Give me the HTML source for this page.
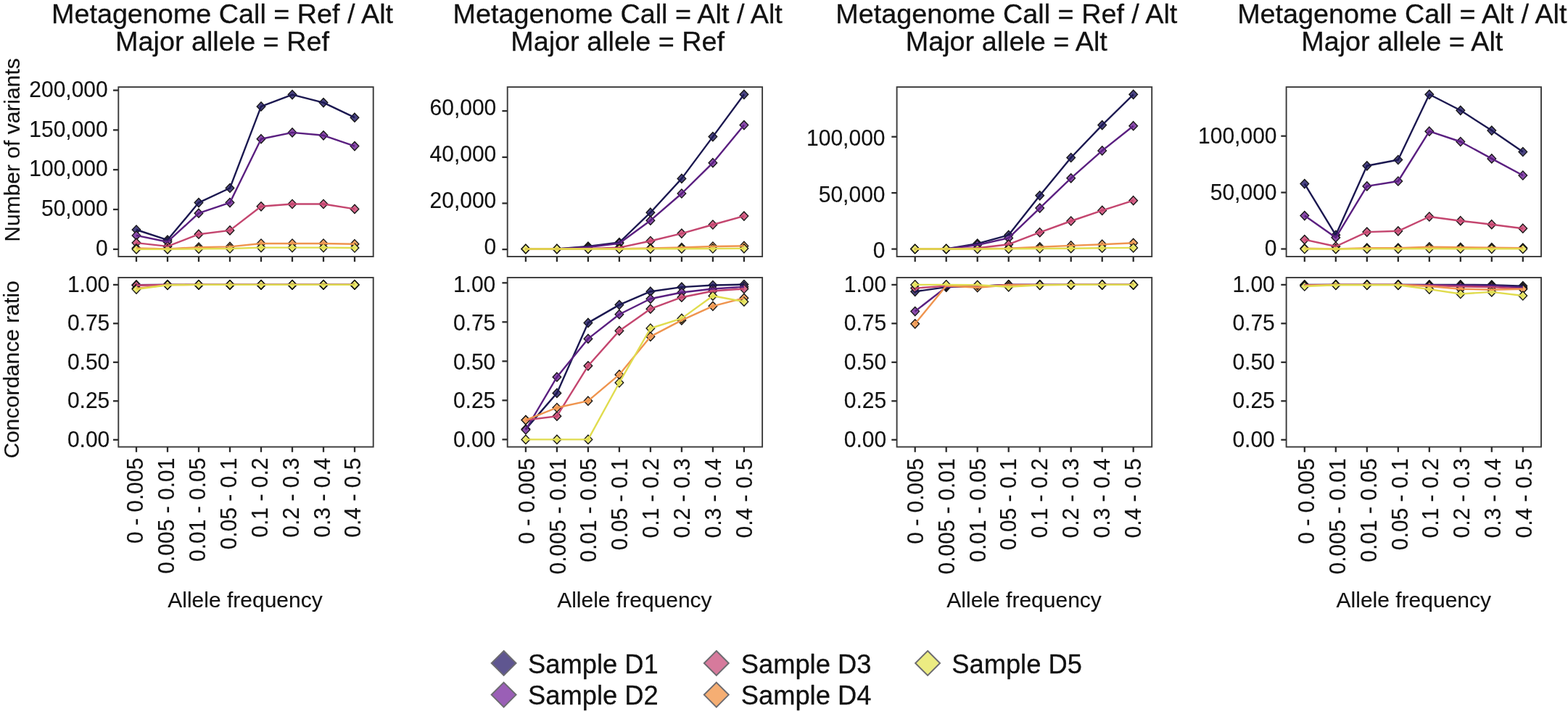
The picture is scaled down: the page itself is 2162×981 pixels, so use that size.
<!DOCTYPE html>
<html lang="en">
<head>
<meta charset="utf-8">
<title>Metagenome call concordance by allele frequency</title>
<style>html,body{margin:0;padding:0;background:#fff}body{width:2162px;height:981px;overflow:hidden}svg{display:block}</style>
</head>
<body>
<svg width="2162" height="981" viewBox="0 0 2162 981" font-family='"Liberation Sans", Arial, Helvetica, sans-serif'>
<style>text{fill:#111;stroke:#111;stroke-width:0.14px;stroke-linejoin:round}text.t{stroke-width:0.3px}</style>
<rect width="2162" height="981" fill="#fff"/>
<text x="306.5" y="32.0" font-size="37.75" text-anchor="middle" class="t">Metagenome Call = Ref / Alt</text>
<text x="306.5" y="70" font-size="37.75" text-anchor="middle" class="t">Major allele = Ref</text>
<path d="M188.0 310.9L193.8 317.0L188.0 323.1L182.2 317.0Z" fill="#4a4482" stroke="#161616" stroke-width="1.35"/>
<path d="M231.0 325.0L236.8 331.1L231.0 337.2L225.2 331.1Z" fill="#4a4482" stroke="#161616" stroke-width="1.35"/>
<path d="M274.0 273.5L279.8 279.6L274.0 285.7L268.2 279.6Z" fill="#4a4482" stroke="#161616" stroke-width="1.35"/>
<path d="M317.0 253.4L322.8 259.5L317.0 265.6L311.2 259.5Z" fill="#4a4482" stroke="#161616" stroke-width="1.35"/>
<path d="M360.0 140.8L365.8 146.9L360.0 153.0L354.2 146.9Z" fill="#4a4482" stroke="#161616" stroke-width="1.35"/>
<path d="M403.0 124.5L408.8 130.6L403.0 136.7L397.2 130.6Z" fill="#4a4482" stroke="#161616" stroke-width="1.35"/>
<path d="M446.0 135.5L451.8 141.6L446.0 147.7L440.2 141.6Z" fill="#4a4482" stroke="#161616" stroke-width="1.35"/>
<path d="M489.0 156.1L494.8 162.2L489.0 168.3L483.2 162.2Z" fill="#4a4482" stroke="#161616" stroke-width="1.35"/>
<path d="M188.0 318.8L193.8 324.9L188.0 331.0L182.2 324.9Z" fill="#8a4caa" stroke="#161616" stroke-width="1.35"/>
<path d="M231.0 327.6L236.8 333.7L231.0 339.8L225.2 333.7Z" fill="#8a4caa" stroke="#161616" stroke-width="1.35"/>
<path d="M274.0 288.1L279.8 294.2L274.0 300.3L268.2 294.2Z" fill="#8a4caa" stroke="#161616" stroke-width="1.35"/>
<path d="M317.0 273.5L322.8 279.6L317.0 285.7L311.2 279.6Z" fill="#8a4caa" stroke="#161616" stroke-width="1.35"/>
<path d="M360.0 185.6L365.8 191.7L360.0 197.8L354.2 191.7Z" fill="#8a4caa" stroke="#161616" stroke-width="1.35"/>
<path d="M403.0 176.8L408.8 182.9L403.0 189.0L397.2 182.9Z" fill="#8a4caa" stroke="#161616" stroke-width="1.35"/>
<path d="M446.0 180.7L451.8 186.8L446.0 192.9L440.2 186.8Z" fill="#8a4caa" stroke="#161616" stroke-width="1.35"/>
<path d="M489.0 195.5L494.8 201.6L489.0 207.7L483.2 201.6Z" fill="#8a4caa" stroke="#161616" stroke-width="1.35"/>
<path d="M188.0 329.0L193.8 335.1L188.0 341.2L182.2 335.1Z" fill="#d5648a" stroke="#161616" stroke-width="1.35"/>
<path d="M231.0 333.8L236.8 339.9L231.0 346.0L225.2 339.9Z" fill="#d5648a" stroke="#161616" stroke-width="1.35"/>
<path d="M274.0 317.1L279.8 323.2L274.0 329.3L268.2 323.2Z" fill="#d5648a" stroke="#161616" stroke-width="1.35"/>
<path d="M317.0 311.8L322.8 317.9L317.0 324.0L311.2 317.9Z" fill="#d5648a" stroke="#161616" stroke-width="1.35"/>
<path d="M360.0 278.7L365.8 284.8L360.0 290.9L354.2 284.8Z" fill="#d5648a" stroke="#161616" stroke-width="1.35"/>
<path d="M403.0 275.4L408.8 281.5L403.0 287.6L397.2 281.5Z" fill="#d5648a" stroke="#161616" stroke-width="1.35"/>
<path d="M446.0 275.4L451.8 281.5L446.0 287.6L440.2 281.5Z" fill="#d5648a" stroke="#161616" stroke-width="1.35"/>
<path d="M489.0 282.3L494.8 288.4L489.0 294.5L483.2 288.4Z" fill="#d5648a" stroke="#161616" stroke-width="1.35"/>
<path d="M188.0 336.4L193.8 342.5L188.0 348.6L182.2 342.5Z" fill="#f4a664" stroke="#161616" stroke-width="1.35"/>
<path d="M231.0 337.3L236.8 343.4L231.0 349.5L225.2 343.4Z" fill="#f4a664" stroke="#161616" stroke-width="1.35"/>
<path d="M274.0 335.0L279.8 341.1L274.0 347.2L268.2 341.1Z" fill="#f4a664" stroke="#161616" stroke-width="1.35"/>
<path d="M317.0 334.3L322.8 340.4L317.0 346.5L311.2 340.4Z" fill="#f4a664" stroke="#161616" stroke-width="1.35"/>
<path d="M360.0 329.9L365.8 336.0L360.0 342.1L354.2 336.0Z" fill="#f4a664" stroke="#161616" stroke-width="1.35"/>
<path d="M403.0 329.9L408.8 336.0L403.0 342.1L397.2 336.0Z" fill="#f4a664" stroke="#161616" stroke-width="1.35"/>
<path d="M446.0 329.9L451.8 336.0L446.0 342.1L440.2 336.0Z" fill="#f4a664" stroke="#161616" stroke-width="1.35"/>
<path d="M489.0 330.6L494.8 336.7L489.0 342.8L483.2 336.7Z" fill="#f4a664" stroke="#161616" stroke-width="1.35"/>
<path d="M188.0 337.8L193.8 343.9L188.0 350.0L182.2 343.9Z" fill="#eae76f" stroke="#161616" stroke-width="1.35"/>
<path d="M231.0 337.8L236.8 343.9L231.0 350.0L225.2 343.9Z" fill="#eae76f" stroke="#161616" stroke-width="1.35"/>
<path d="M274.0 337.2L279.8 343.3L274.0 349.4L268.2 343.3Z" fill="#eae76f" stroke="#161616" stroke-width="1.35"/>
<path d="M317.0 336.9L322.8 343.0L317.0 349.1L311.2 343.0Z" fill="#eae76f" stroke="#161616" stroke-width="1.35"/>
<path d="M360.0 335.5L365.8 341.6L360.0 347.7L354.2 341.6Z" fill="#eae76f" stroke="#161616" stroke-width="1.35"/>
<path d="M403.0 335.5L408.8 341.6L403.0 347.7L397.2 341.6Z" fill="#eae76f" stroke="#161616" stroke-width="1.35"/>
<path d="M446.0 335.5L451.8 341.6L446.0 347.7L440.2 341.6Z" fill="#eae76f" stroke="#161616" stroke-width="1.35"/>
<path d="M489.0 335.9L494.8 342.0L489.0 348.1L483.2 342.0Z" fill="#eae76f" stroke="#161616" stroke-width="1.35"/>
<polyline points="188.0,317.0 231.0,331.1 274.0,279.6 317.0,259.5 360.0,146.9 403.0,130.6 446.0,141.6 489.0,162.2" fill="none" stroke="#1b1850" stroke-width="2.4" stroke-linejoin="round" stroke-linecap="butt"/>
<polyline points="188.0,324.9 231.0,333.7 274.0,294.2 317.0,279.6 360.0,191.7 403.0,182.9 446.0,186.8 489.0,201.6" fill="none" stroke="#5a1f80" stroke-width="2.4" stroke-linejoin="round" stroke-linecap="butt"/>
<polyline points="188.0,335.1 231.0,339.9 274.0,323.2 317.0,317.9 360.0,284.8 403.0,281.5 446.0,281.5 489.0,288.4" fill="none" stroke="#c4466f" stroke-width="2.4" stroke-linejoin="round" stroke-linecap="butt"/>
<polyline points="188.0,342.5 231.0,343.4 274.0,341.1 317.0,340.4 360.0,336.0 403.0,336.0 446.0,336.0 489.0,336.7" fill="none" stroke="#ef944e" stroke-width="2.4" stroke-linejoin="round" stroke-linecap="butt"/>
<polyline points="188.0,343.9 231.0,343.9 274.0,343.3 317.0,343.0 360.0,341.6 403.0,341.6 446.0,341.6 489.0,342.0" fill="none" stroke="#e0dc4e" stroke-width="2.4" stroke-linejoin="round" stroke-linecap="butt"/>
<rect x="163.3" y="120.1" width="351.4" height="233.9" fill="none" stroke="#3a3a3a" stroke-width="1.9"/>
<line x1="156.0" x2="163.3" y1="343.9" y2="343.9" stroke="#2b2b2b" stroke-width="2.3"/>
<text transform="translate(148.7 353.3) scale(1 1.015)" font-size="30.0" text-anchor="end">0</text>
<line x1="156.0" x2="163.3" y1="289.0" y2="289.0" stroke="#2b2b2b" stroke-width="2.3"/>
<text transform="translate(148.7 298.3) scale(1 1.015)" font-size="30.0" text-anchor="end">50,000</text>
<line x1="156.0" x2="163.3" y1="234.2" y2="234.2" stroke="#2b2b2b" stroke-width="2.3"/>
<text transform="translate(148.7 243.4) scale(1 1.015)" font-size="30.0" text-anchor="end">100,000</text>
<line x1="156.0" x2="163.3" y1="179.4" y2="179.4" stroke="#2b2b2b" stroke-width="2.3"/>
<text transform="translate(148.7 188.5) scale(1 1.015)" font-size="30.0" text-anchor="end">150,000</text>
<line x1="156.0" x2="163.3" y1="124.6" y2="124.6" stroke="#2b2b2b" stroke-width="2.3"/>
<text transform="translate(148.7 133.6) scale(1 1.015)" font-size="30.0" text-anchor="end">200,000</text>
<line x1="188.0" x2="188.0" y1="354.0" y2="361.2" stroke="#2b2b2b" stroke-width="2.3"/>
<line x1="231.0" x2="231.0" y1="354.0" y2="361.2" stroke="#2b2b2b" stroke-width="2.3"/>
<line x1="274.0" x2="274.0" y1="354.0" y2="361.2" stroke="#2b2b2b" stroke-width="2.3"/>
<line x1="317.0" x2="317.0" y1="354.0" y2="361.2" stroke="#2b2b2b" stroke-width="2.3"/>
<line x1="360.0" x2="360.0" y1="354.0" y2="361.2" stroke="#2b2b2b" stroke-width="2.3"/>
<line x1="403.0" x2="403.0" y1="354.0" y2="361.2" stroke="#2b2b2b" stroke-width="2.3"/>
<line x1="446.0" x2="446.0" y1="354.0" y2="361.2" stroke="#2b2b2b" stroke-width="2.3"/>
<line x1="489.0" x2="489.0" y1="354.0" y2="361.2" stroke="#2b2b2b" stroke-width="2.3"/>
<path d="M188.0 387.0L193.8 393.1L188.0 399.2L182.2 393.1Z" fill="#4a4482" stroke="#161616" stroke-width="1.35"/>
<path d="M231.0 386.8L236.8 392.9L231.0 399.0L225.2 392.9Z" fill="#4a4482" stroke="#161616" stroke-width="1.35"/>
<path d="M274.0 386.8L279.8 392.9L274.0 399.0L268.2 392.9Z" fill="#4a4482" stroke="#161616" stroke-width="1.35"/>
<path d="M317.0 386.8L322.8 392.9L317.0 399.0L311.2 392.9Z" fill="#4a4482" stroke="#161616" stroke-width="1.35"/>
<path d="M360.0 386.8L365.8 392.9L360.0 399.0L354.2 392.9Z" fill="#4a4482" stroke="#161616" stroke-width="1.35"/>
<path d="M403.0 386.8L408.8 392.9L403.0 399.0L397.2 392.9Z" fill="#4a4482" stroke="#161616" stroke-width="1.35"/>
<path d="M446.0 386.8L451.8 392.9L446.0 399.0L440.2 392.9Z" fill="#4a4482" stroke="#161616" stroke-width="1.35"/>
<path d="M489.0 386.8L494.8 392.9L489.0 399.0L483.2 392.9Z" fill="#4a4482" stroke="#161616" stroke-width="1.35"/>
<path d="M188.0 387.2L193.8 393.3L188.0 399.4L182.2 393.3Z" fill="#8a4caa" stroke="#161616" stroke-width="1.35"/>
<path d="M231.0 386.8L236.8 392.9L231.0 399.0L225.2 392.9Z" fill="#8a4caa" stroke="#161616" stroke-width="1.35"/>
<path d="M274.0 386.8L279.8 392.9L274.0 399.0L268.2 392.9Z" fill="#8a4caa" stroke="#161616" stroke-width="1.35"/>
<path d="M317.0 386.8L322.8 392.9L317.0 399.0L311.2 392.9Z" fill="#8a4caa" stroke="#161616" stroke-width="1.35"/>
<path d="M360.0 386.8L365.8 392.9L360.0 399.0L354.2 392.9Z" fill="#8a4caa" stroke="#161616" stroke-width="1.35"/>
<path d="M403.0 386.8L408.8 392.9L403.0 399.0L397.2 392.9Z" fill="#8a4caa" stroke="#161616" stroke-width="1.35"/>
<path d="M446.0 386.8L451.8 392.9L446.0 399.0L440.2 392.9Z" fill="#8a4caa" stroke="#161616" stroke-width="1.35"/>
<path d="M489.0 386.8L494.8 392.9L489.0 399.0L483.2 392.9Z" fill="#8a4caa" stroke="#161616" stroke-width="1.35"/>
<path d="M188.0 387.6L193.8 393.7L188.0 399.8L182.2 393.7Z" fill="#d5648a" stroke="#161616" stroke-width="1.35"/>
<path d="M231.0 386.8L236.8 392.9L231.0 399.0L225.2 392.9Z" fill="#d5648a" stroke="#161616" stroke-width="1.35"/>
<path d="M274.0 386.8L279.8 392.9L274.0 399.0L268.2 392.9Z" fill="#d5648a" stroke="#161616" stroke-width="1.35"/>
<path d="M317.0 386.8L322.8 392.9L317.0 399.0L311.2 392.9Z" fill="#d5648a" stroke="#161616" stroke-width="1.35"/>
<path d="M360.0 386.8L365.8 392.9L360.0 399.0L354.2 392.9Z" fill="#d5648a" stroke="#161616" stroke-width="1.35"/>
<path d="M403.0 386.8L408.8 392.9L403.0 399.0L397.2 392.9Z" fill="#d5648a" stroke="#161616" stroke-width="1.35"/>
<path d="M446.0 386.8L451.8 392.9L446.0 399.0L440.2 392.9Z" fill="#d5648a" stroke="#161616" stroke-width="1.35"/>
<path d="M489.0 386.8L494.8 392.9L489.0 399.0L483.2 392.9Z" fill="#d5648a" stroke="#161616" stroke-width="1.35"/>
<path d="M188.0 391.9L193.8 398.0L188.0 404.1L182.2 398.0Z" fill="#f4a664" stroke="#161616" stroke-width="1.35"/>
<path d="M231.0 387.0L236.8 393.1L231.0 399.2L225.2 393.1Z" fill="#f4a664" stroke="#161616" stroke-width="1.35"/>
<path d="M274.0 386.8L279.8 392.9L274.0 399.0L268.2 392.9Z" fill="#f4a664" stroke="#161616" stroke-width="1.35"/>
<path d="M317.0 386.8L322.8 392.9L317.0 399.0L311.2 392.9Z" fill="#f4a664" stroke="#161616" stroke-width="1.35"/>
<path d="M360.0 386.8L365.8 392.9L360.0 399.0L354.2 392.9Z" fill="#f4a664" stroke="#161616" stroke-width="1.35"/>
<path d="M403.0 386.8L408.8 392.9L403.0 399.0L397.2 392.9Z" fill="#f4a664" stroke="#161616" stroke-width="1.35"/>
<path d="M446.0 386.8L451.8 392.9L446.0 399.0L440.2 392.9Z" fill="#f4a664" stroke="#161616" stroke-width="1.35"/>
<path d="M489.0 386.8L494.8 392.9L489.0 399.0L483.2 392.9Z" fill="#f4a664" stroke="#161616" stroke-width="1.35"/>
<path d="M188.0 393.0L193.8 399.1L188.0 405.2L182.2 399.1Z" fill="#eae76f" stroke="#161616" stroke-width="1.35"/>
<path d="M231.0 387.2L236.8 393.3L231.0 399.4L225.2 393.3Z" fill="#eae76f" stroke="#161616" stroke-width="1.35"/>
<path d="M274.0 386.8L279.8 392.9L274.0 399.0L268.2 392.9Z" fill="#eae76f" stroke="#161616" stroke-width="1.35"/>
<path d="M317.0 386.8L322.8 392.9L317.0 399.0L311.2 392.9Z" fill="#eae76f" stroke="#161616" stroke-width="1.35"/>
<path d="M360.0 386.8L365.8 392.9L360.0 399.0L354.2 392.9Z" fill="#eae76f" stroke="#161616" stroke-width="1.35"/>
<path d="M403.0 386.8L408.8 392.9L403.0 399.0L397.2 392.9Z" fill="#eae76f" stroke="#161616" stroke-width="1.35"/>
<path d="M446.0 386.8L451.8 392.9L446.0 399.0L440.2 392.9Z" fill="#eae76f" stroke="#161616" stroke-width="1.35"/>
<path d="M489.0 386.8L494.8 392.9L489.0 399.0L483.2 392.9Z" fill="#eae76f" stroke="#161616" stroke-width="1.35"/>
<polyline points="188.0,393.1 231.0,392.9 274.0,392.9 317.0,392.9 360.0,392.9 403.0,392.9 446.0,392.9 489.0,392.9" fill="none" stroke="#1b1850" stroke-width="2.4" stroke-linejoin="round" stroke-linecap="butt"/>
<polyline points="188.0,393.3 231.0,392.9 274.0,392.9 317.0,392.9 360.0,392.9 403.0,392.9 446.0,392.9 489.0,392.9" fill="none" stroke="#5a1f80" stroke-width="2.4" stroke-linejoin="round" stroke-linecap="butt"/>
<polyline points="188.0,393.7 231.0,392.9 274.0,392.9 317.0,392.9 360.0,392.9 403.0,392.9 446.0,392.9 489.0,392.9" fill="none" stroke="#c4466f" stroke-width="2.4" stroke-linejoin="round" stroke-linecap="butt"/>
<polyline points="188.0,398.0 231.0,393.1 274.0,392.9 317.0,392.9 360.0,392.9 403.0,392.9 446.0,392.9 489.0,392.9" fill="none" stroke="#ef944e" stroke-width="2.4" stroke-linejoin="round" stroke-linecap="butt"/>
<polyline points="188.0,399.1 231.0,393.3 274.0,392.9 317.0,392.9 360.0,392.9 403.0,392.9 446.0,392.9 489.0,392.9" fill="none" stroke="#e0dc4e" stroke-width="2.4" stroke-linejoin="round" stroke-linecap="butt"/>
<rect x="163.3" y="383.0" width="351.4" height="233.6" fill="none" stroke="#3a3a3a" stroke-width="1.9"/>
<line x1="156.0" x2="163.3" y1="606.8" y2="606.8" stroke="#2b2b2b" stroke-width="2.3"/>
<text transform="translate(151.3 616.5) scale(1 1.015)" font-size="30.0" text-anchor="end">0.00</text>
<line x1="156.0" x2="163.3" y1="553.3" y2="553.3" stroke="#2b2b2b" stroke-width="2.3"/>
<text transform="translate(151.3 563.0) scale(1 1.015)" font-size="30.0" text-anchor="end">0.25</text>
<line x1="156.0" x2="163.3" y1="499.8" y2="499.8" stroke="#2b2b2b" stroke-width="2.3"/>
<text transform="translate(151.3 509.5) scale(1 1.015)" font-size="30.0" text-anchor="end">0.50</text>
<line x1="156.0" x2="163.3" y1="446.3" y2="446.3" stroke="#2b2b2b" stroke-width="2.3"/>
<text transform="translate(151.3 456.0) scale(1 1.015)" font-size="30.0" text-anchor="end">0.75</text>
<line x1="156.0" x2="163.3" y1="392.9" y2="392.9" stroke="#2b2b2b" stroke-width="2.3"/>
<text transform="translate(151.3 402.6) scale(1 1.015)" font-size="30.0" text-anchor="end">1.00</text>
<line x1="188.0" x2="188.0" y1="616.6" y2="623.8" stroke="#2b2b2b" stroke-width="2.3"/>
<text transform="translate(197.1 631.6) rotate(-90) scale(1 1.015)" font-size="30.0" text-anchor="end">0 - 0.005</text>
<line x1="231.0" x2="231.0" y1="616.6" y2="623.8" stroke="#2b2b2b" stroke-width="2.3"/>
<text transform="translate(240.0 631.6) rotate(-90) scale(1 1.015)" font-size="30.0" text-anchor="end">0.005 - 0.01</text>
<line x1="274.0" x2="274.0" y1="616.6" y2="623.8" stroke="#2b2b2b" stroke-width="2.3"/>
<text transform="translate(282.9 631.6) rotate(-90) scale(1 1.015)" font-size="30.0" text-anchor="end">0.01 - 0.05</text>
<line x1="317.0" x2="317.0" y1="616.6" y2="623.8" stroke="#2b2b2b" stroke-width="2.3"/>
<text transform="translate(325.8 631.6) rotate(-90) scale(1 1.015)" font-size="30.0" text-anchor="end">0.05 - 0.1</text>
<line x1="360.0" x2="360.0" y1="616.6" y2="623.8" stroke="#2b2b2b" stroke-width="2.3"/>
<text transform="translate(368.7 631.6) rotate(-90) scale(1 1.015)" font-size="30.0" text-anchor="end">0.1 - 0.2</text>
<line x1="403.0" x2="403.0" y1="616.6" y2="623.8" stroke="#2b2b2b" stroke-width="2.3"/>
<text transform="translate(411.6 631.6) rotate(-90) scale(1 1.015)" font-size="30.0" text-anchor="end">0.2 - 0.3</text>
<line x1="446.0" x2="446.0" y1="616.6" y2="623.8" stroke="#2b2b2b" stroke-width="2.3"/>
<text transform="translate(454.5 631.6) rotate(-90) scale(1 1.015)" font-size="30.0" text-anchor="end">0.3 - 0.4</text>
<line x1="489.0" x2="489.0" y1="616.6" y2="623.8" stroke="#2b2b2b" stroke-width="2.3"/>
<text transform="translate(497.4 631.6) rotate(-90) scale(1 1.015)" font-size="30.0" text-anchor="end">0.4 - 0.5</text>
<text x="338.0" y="837.6" font-size="30.0" text-anchor="middle">Allele frequency</text>
<text x="851.7" y="32.0" font-size="37.75" text-anchor="middle" class="t">Metagenome Call = Alt / Alt</text>
<text x="851.7" y="70" font-size="37.75" text-anchor="middle" class="t">Major allele = Ref</text>
<path d="M724.9 337.4L730.7 343.5L724.9 349.6L719.1 343.5Z" fill="#4a4482" stroke="#161616" stroke-width="1.35"/>
<path d="M767.9 337.4L773.7 343.5L767.9 349.6L762.1 343.5Z" fill="#4a4482" stroke="#161616" stroke-width="1.35"/>
<path d="M810.9 333.9L816.7 340.0L810.9 346.1L805.1 340.0Z" fill="#4a4482" stroke="#161616" stroke-width="1.35"/>
<path d="M853.9 328.4L859.7 334.5L853.9 340.6L848.1 334.5Z" fill="#4a4482" stroke="#161616" stroke-width="1.35"/>
<path d="M896.9 287.1L902.7 293.2L896.9 299.3L891.1 293.2Z" fill="#4a4482" stroke="#161616" stroke-width="1.35"/>
<path d="M939.9 240.3L945.7 246.4L939.9 252.5L934.1 246.4Z" fill="#4a4482" stroke="#161616" stroke-width="1.35"/>
<path d="M982.9 182.5L988.7 188.6L982.9 194.7L977.1 188.6Z" fill="#4a4482" stroke="#161616" stroke-width="1.35"/>
<path d="M1025.9 124.2L1031.7 130.3L1025.9 136.4L1020.1 130.3Z" fill="#4a4482" stroke="#161616" stroke-width="1.35"/>
<path d="M724.9 337.4L730.7 343.5L724.9 349.6L719.1 343.5Z" fill="#8a4caa" stroke="#161616" stroke-width="1.35"/>
<path d="M767.9 337.4L773.7 343.5L767.9 349.6L762.1 343.5Z" fill="#8a4caa" stroke="#161616" stroke-width="1.35"/>
<path d="M810.9 334.9L816.7 341.0L810.9 347.1L805.1 341.0Z" fill="#8a4caa" stroke="#161616" stroke-width="1.35"/>
<path d="M853.9 329.7L859.7 335.8L853.9 341.9L848.1 335.8Z" fill="#8a4caa" stroke="#161616" stroke-width="1.35"/>
<path d="M896.9 298.1L902.7 304.2L896.9 310.3L891.1 304.2Z" fill="#8a4caa" stroke="#161616" stroke-width="1.35"/>
<path d="M939.9 260.9L945.7 267.0L939.9 273.1L934.1 267.0Z" fill="#8a4caa" stroke="#161616" stroke-width="1.35"/>
<path d="M982.9 218.6L988.7 224.7L982.9 230.8L977.1 224.7Z" fill="#8a4caa" stroke="#161616" stroke-width="1.35"/>
<path d="M1025.9 166.5L1031.7 172.6L1025.9 178.7L1020.1 172.6Z" fill="#8a4caa" stroke="#161616" stroke-width="1.35"/>
<path d="M724.9 337.4L730.7 343.5L724.9 349.6L719.1 343.5Z" fill="#d5648a" stroke="#161616" stroke-width="1.35"/>
<path d="M767.9 337.4L773.7 343.5L767.9 349.6L762.1 343.5Z" fill="#d5648a" stroke="#161616" stroke-width="1.35"/>
<path d="M810.9 336.9L816.7 343.0L810.9 349.1L805.1 343.0Z" fill="#d5648a" stroke="#161616" stroke-width="1.35"/>
<path d="M853.9 335.5L859.7 341.6L853.9 347.7L848.1 341.6Z" fill="#d5648a" stroke="#161616" stroke-width="1.35"/>
<path d="M896.9 326.4L902.7 332.5L896.9 338.6L891.1 332.5Z" fill="#d5648a" stroke="#161616" stroke-width="1.35"/>
<path d="M939.9 316.0L945.7 322.1L939.9 328.2L934.1 322.1Z" fill="#d5648a" stroke="#161616" stroke-width="1.35"/>
<path d="M982.9 303.9L988.7 310.0L982.9 316.1L977.1 310.0Z" fill="#d5648a" stroke="#161616" stroke-width="1.35"/>
<path d="M1025.9 292.0L1031.7 298.1L1025.9 304.2L1020.1 298.1Z" fill="#d5648a" stroke="#161616" stroke-width="1.35"/>
<path d="M724.9 337.4L730.7 343.5L724.9 349.6L719.1 343.5Z" fill="#f4a664" stroke="#161616" stroke-width="1.35"/>
<path d="M767.9 337.4L773.7 343.5L767.9 349.6L762.1 343.5Z" fill="#f4a664" stroke="#161616" stroke-width="1.35"/>
<path d="M810.9 337.3L816.7 343.4L810.9 349.5L805.1 343.4Z" fill="#f4a664" stroke="#161616" stroke-width="1.35"/>
<path d="M853.9 337.1L859.7 343.2L853.9 349.3L848.1 343.2Z" fill="#f4a664" stroke="#161616" stroke-width="1.35"/>
<path d="M896.9 336.4L902.7 342.5L896.9 348.6L891.1 342.5Z" fill="#f4a664" stroke="#161616" stroke-width="1.35"/>
<path d="M939.9 335.4L945.7 341.5L939.9 347.6L934.1 341.5Z" fill="#f4a664" stroke="#161616" stroke-width="1.35"/>
<path d="M982.9 333.9L988.7 340.0L982.9 346.1L977.1 340.0Z" fill="#f4a664" stroke="#161616" stroke-width="1.35"/>
<path d="M1025.9 333.3L1031.7 339.4L1025.9 345.5L1020.1 339.4Z" fill="#f4a664" stroke="#161616" stroke-width="1.35"/>
<path d="M724.9 337.4L730.7 343.5L724.9 349.6L719.1 343.5Z" fill="#eae76f" stroke="#161616" stroke-width="1.35"/>
<path d="M767.9 337.4L773.7 343.5L767.9 349.6L762.1 343.5Z" fill="#eae76f" stroke="#161616" stroke-width="1.35"/>
<path d="M810.9 337.4L816.7 343.5L810.9 349.6L805.1 343.5Z" fill="#eae76f" stroke="#161616" stroke-width="1.35"/>
<path d="M853.9 337.4L859.7 343.5L853.9 349.6L848.1 343.5Z" fill="#eae76f" stroke="#161616" stroke-width="1.35"/>
<path d="M896.9 337.3L902.7 343.4L896.9 349.5L891.1 343.4Z" fill="#eae76f" stroke="#161616" stroke-width="1.35"/>
<path d="M939.9 337.1L945.7 343.2L939.9 349.3L934.1 343.2Z" fill="#eae76f" stroke="#161616" stroke-width="1.35"/>
<path d="M982.9 336.9L988.7 343.0L982.9 349.1L977.1 343.0Z" fill="#eae76f" stroke="#161616" stroke-width="1.35"/>
<path d="M1025.9 336.7L1031.7 342.8L1025.9 348.9L1020.1 342.8Z" fill="#eae76f" stroke="#161616" stroke-width="1.35"/>
<polyline points="724.9,343.5 767.9,343.5 810.9,340.0 853.9,334.5 896.9,293.2 939.9,246.4 982.9,188.6 1025.9,130.3" fill="none" stroke="#1b1850" stroke-width="2.4" stroke-linejoin="round" stroke-linecap="butt"/>
<polyline points="724.9,343.5 767.9,343.5 810.9,341.0 853.9,335.8 896.9,304.2 939.9,267.0 982.9,224.7 1025.9,172.6" fill="none" stroke="#5a1f80" stroke-width="2.4" stroke-linejoin="round" stroke-linecap="butt"/>
<polyline points="724.9,343.5 767.9,343.5 810.9,343.0 853.9,341.6 896.9,332.5 939.9,322.1 982.9,310.0 1025.9,298.1" fill="none" stroke="#c4466f" stroke-width="2.4" stroke-linejoin="round" stroke-linecap="butt"/>
<polyline points="724.9,343.5 767.9,343.5 810.9,343.4 853.9,343.2 896.9,342.5 939.9,341.5 982.9,340.0 1025.9,339.4" fill="none" stroke="#ef944e" stroke-width="2.4" stroke-linejoin="round" stroke-linecap="butt"/>
<polyline points="724.9,343.5 767.9,343.5 810.9,343.5 853.9,343.5 896.9,343.4 939.9,343.2 982.9,343.0 1025.9,342.8" fill="none" stroke="#e0dc4e" stroke-width="2.4" stroke-linejoin="round" stroke-linecap="butt"/>
<rect x="699.7" y="120.1" width="351.4" height="233.9" fill="none" stroke="#3a3a3a" stroke-width="1.9"/>
<line x1="692.4" x2="699.7" y1="344.1" y2="344.1" stroke="#2b2b2b" stroke-width="2.3"/>
<text transform="translate(684.3 350.9) scale(1 1.015)" font-size="30.0" text-anchor="end">0</text>
<line x1="692.4" x2="699.7" y1="280.5" y2="280.5" stroke="#2b2b2b" stroke-width="2.3"/>
<text transform="translate(684.3 287.0) scale(1 1.015)" font-size="30.0" text-anchor="end">20,000</text>
<line x1="692.4" x2="699.7" y1="216.9" y2="216.9" stroke="#2b2b2b" stroke-width="2.3"/>
<text transform="translate(684.3 223.0) scale(1 1.015)" font-size="30.0" text-anchor="end">40,000</text>
<line x1="692.4" x2="699.7" y1="153.1" y2="153.1" stroke="#2b2b2b" stroke-width="2.3"/>
<text transform="translate(684.3 158.9) scale(1 1.015)" font-size="30.0" text-anchor="end">60,000</text>
<line x1="724.9" x2="724.9" y1="354.0" y2="361.2" stroke="#2b2b2b" stroke-width="2.3"/>
<line x1="767.9" x2="767.9" y1="354.0" y2="361.2" stroke="#2b2b2b" stroke-width="2.3"/>
<line x1="810.9" x2="810.9" y1="354.0" y2="361.2" stroke="#2b2b2b" stroke-width="2.3"/>
<line x1="853.9" x2="853.9" y1="354.0" y2="361.2" stroke="#2b2b2b" stroke-width="2.3"/>
<line x1="896.9" x2="896.9" y1="354.0" y2="361.2" stroke="#2b2b2b" stroke-width="2.3"/>
<line x1="939.9" x2="939.9" y1="354.0" y2="361.2" stroke="#2b2b2b" stroke-width="2.3"/>
<line x1="982.9" x2="982.9" y1="354.0" y2="361.2" stroke="#2b2b2b" stroke-width="2.3"/>
<line x1="1025.9" x2="1025.9" y1="354.0" y2="361.2" stroke="#2b2b2b" stroke-width="2.3"/>
<path d="M724.9 586.0L730.7 592.1L724.9 598.2L719.1 592.1Z" fill="#4a4482" stroke="#161616" stroke-width="1.35"/>
<path d="M767.9 536.3L773.7 542.4L767.9 548.5L762.1 542.4Z" fill="#4a4482" stroke="#161616" stroke-width="1.35"/>
<path d="M810.9 439.3L816.7 445.4L810.9 451.5L805.1 445.4Z" fill="#4a4482" stroke="#161616" stroke-width="1.35"/>
<path d="M853.9 414.5L859.7 420.6L853.9 426.7L848.1 420.6Z" fill="#4a4482" stroke="#161616" stroke-width="1.35"/>
<path d="M896.9 396.1L902.7 402.2L896.9 408.3L891.1 402.2Z" fill="#4a4482" stroke="#161616" stroke-width="1.35"/>
<path d="M939.9 390.0L945.7 396.1L939.9 402.2L934.1 396.1Z" fill="#4a4482" stroke="#161616" stroke-width="1.35"/>
<path d="M982.9 387.4L988.7 393.5L982.9 399.6L977.1 393.5Z" fill="#4a4482" stroke="#161616" stroke-width="1.35"/>
<path d="M1025.9 386.4L1031.7 392.5L1025.9 398.6L1020.1 392.5Z" fill="#4a4482" stroke="#161616" stroke-width="1.35"/>
<path d="M724.9 586.9L730.7 593.0L724.9 599.1L719.1 593.0Z" fill="#8a4caa" stroke="#161616" stroke-width="1.35"/>
<path d="M767.9 514.1L773.7 520.2L767.9 526.3L762.1 520.2Z" fill="#8a4caa" stroke="#161616" stroke-width="1.35"/>
<path d="M810.9 461.3L816.7 467.4L810.9 473.5L805.1 467.4Z" fill="#8a4caa" stroke="#161616" stroke-width="1.35"/>
<path d="M853.9 427.6L859.7 433.7L853.9 439.8L848.1 433.7Z" fill="#8a4caa" stroke="#161616" stroke-width="1.35"/>
<path d="M896.9 406.2L902.7 412.3L896.9 418.4L891.1 412.3Z" fill="#8a4caa" stroke="#161616" stroke-width="1.35"/>
<path d="M939.9 397.4L945.7 403.5L939.9 409.6L934.1 403.5Z" fill="#8a4caa" stroke="#161616" stroke-width="1.35"/>
<path d="M982.9 392.4L988.7 398.5L982.9 404.6L977.1 398.5Z" fill="#8a4caa" stroke="#161616" stroke-width="1.35"/>
<path d="M1025.9 389.6L1031.7 395.7L1025.9 401.8L1020.1 395.7Z" fill="#8a4caa" stroke="#161616" stroke-width="1.35"/>
<path d="M724.9 573.5L730.7 579.6L724.9 585.7L719.1 579.6Z" fill="#d5648a" stroke="#161616" stroke-width="1.35"/>
<path d="M767.9 568.1L773.7 574.2L767.9 580.3L762.1 574.2Z" fill="#d5648a" stroke="#161616" stroke-width="1.35"/>
<path d="M810.9 498.7L816.7 504.8L810.9 510.9L805.1 504.8Z" fill="#d5648a" stroke="#161616" stroke-width="1.35"/>
<path d="M853.9 450.3L859.7 456.4L853.9 462.5L848.1 456.4Z" fill="#d5648a" stroke="#161616" stroke-width="1.35"/>
<path d="M896.9 420.1L902.7 426.2L896.9 432.3L891.1 426.2Z" fill="#d5648a" stroke="#161616" stroke-width="1.35"/>
<path d="M939.9 404.1L945.7 410.2L939.9 416.3L934.1 410.2Z" fill="#d5648a" stroke="#161616" stroke-width="1.35"/>
<path d="M982.9 395.4L988.7 401.5L982.9 407.6L977.1 401.5Z" fill="#d5648a" stroke="#161616" stroke-width="1.35"/>
<path d="M1025.9 392.4L1031.7 398.5L1025.9 404.6L1020.1 398.5Z" fill="#d5648a" stroke="#161616" stroke-width="1.35"/>
<path d="M724.9 573.5L730.7 579.6L724.9 585.7L719.1 579.6Z" fill="#f4a664" stroke="#161616" stroke-width="1.35"/>
<path d="M767.9 556.4L773.7 562.5L767.9 568.6L762.1 562.5Z" fill="#f4a664" stroke="#161616" stroke-width="1.35"/>
<path d="M810.9 547.1L816.7 553.2L810.9 559.3L805.1 553.2Z" fill="#f4a664" stroke="#161616" stroke-width="1.35"/>
<path d="M853.9 510.8L859.7 516.9L853.9 523.0L848.1 516.9Z" fill="#f4a664" stroke="#161616" stroke-width="1.35"/>
<path d="M896.9 458.3L902.7 464.4L896.9 470.5L891.1 464.4Z" fill="#f4a664" stroke="#161616" stroke-width="1.35"/>
<path d="M939.9 435.8L945.7 441.9L939.9 448.0L934.1 441.9Z" fill="#f4a664" stroke="#161616" stroke-width="1.35"/>
<path d="M982.9 416.2L988.7 422.3L982.9 428.4L977.1 422.3Z" fill="#f4a664" stroke="#161616" stroke-width="1.35"/>
<path d="M1025.9 405.2L1031.7 411.3L1025.9 417.4L1020.1 411.3Z" fill="#f4a664" stroke="#161616" stroke-width="1.35"/>
<path d="M724.9 600.3L730.7 606.4L724.9 612.5L719.1 606.4Z" fill="#eae76f" stroke="#161616" stroke-width="1.35"/>
<path d="M767.9 600.3L773.7 606.4L767.9 612.5L762.1 606.4Z" fill="#eae76f" stroke="#161616" stroke-width="1.35"/>
<path d="M810.9 600.3L816.7 606.4L810.9 612.5L805.1 606.4Z" fill="#eae76f" stroke="#161616" stroke-width="1.35"/>
<path d="M853.9 521.9L859.7 528.0L853.9 534.1L848.1 528.0Z" fill="#eae76f" stroke="#161616" stroke-width="1.35"/>
<path d="M896.9 446.9L902.7 453.0L896.9 459.1L891.1 453.0Z" fill="#eae76f" stroke="#161616" stroke-width="1.35"/>
<path d="M939.9 433.3L945.7 439.4L939.9 445.5L934.1 439.4Z" fill="#eae76f" stroke="#161616" stroke-width="1.35"/>
<path d="M982.9 402.1L988.7 408.2L982.9 414.3L977.1 408.2Z" fill="#eae76f" stroke="#161616" stroke-width="1.35"/>
<path d="M1025.9 410.1L1031.7 416.2L1025.9 422.3L1020.1 416.2Z" fill="#eae76f" stroke="#161616" stroke-width="1.35"/>
<polyline points="724.9,592.1 767.9,542.4 810.9,445.4 853.9,420.6 896.9,402.2 939.9,396.1 982.9,393.5 1025.9,392.5" fill="none" stroke="#1b1850" stroke-width="2.4" stroke-linejoin="round" stroke-linecap="butt"/>
<polyline points="724.9,593.0 767.9,520.2 810.9,467.4 853.9,433.7 896.9,412.3 939.9,403.5 982.9,398.5 1025.9,395.7" fill="none" stroke="#5a1f80" stroke-width="2.4" stroke-linejoin="round" stroke-linecap="butt"/>
<polyline points="724.9,579.6 767.9,574.2 810.9,504.8 853.9,456.4 896.9,426.2 939.9,410.2 982.9,401.5 1025.9,398.5" fill="none" stroke="#c4466f" stroke-width="2.4" stroke-linejoin="round" stroke-linecap="butt"/>
<polyline points="724.9,579.6 767.9,562.5 810.9,553.2 853.9,516.9 896.9,464.4 939.9,441.9 982.9,422.3 1025.9,411.3" fill="none" stroke="#ef944e" stroke-width="2.4" stroke-linejoin="round" stroke-linecap="butt"/>
<polyline points="724.9,606.4 767.9,606.4 810.9,606.4 853.9,528.0 896.9,453.0 939.9,439.4 982.9,408.2 1025.9,416.2" fill="none" stroke="#e0dc4e" stroke-width="2.4" stroke-linejoin="round" stroke-linecap="butt"/>
<rect x="699.7" y="383.0" width="351.4" height="233.6" fill="none" stroke="#3a3a3a" stroke-width="1.9"/>
<line x1="692.4" x2="699.7" y1="606.4" y2="606.4" stroke="#2b2b2b" stroke-width="2.3"/>
<text transform="translate(683.3 616.6) scale(1 1.015)" font-size="30.0" text-anchor="end">0.00</text>
<line x1="692.4" x2="699.7" y1="552.4" y2="552.4" stroke="#2b2b2b" stroke-width="2.3"/>
<text transform="translate(683.3 563.1) scale(1 1.015)" font-size="30.0" text-anchor="end">0.25</text>
<line x1="692.4" x2="699.7" y1="498.4" y2="498.4" stroke="#2b2b2b" stroke-width="2.3"/>
<text transform="translate(683.3 509.6) scale(1 1.015)" font-size="30.0" text-anchor="end">0.50</text>
<line x1="692.4" x2="699.7" y1="444.3" y2="444.3" stroke="#2b2b2b" stroke-width="2.3"/>
<text transform="translate(683.3 456.1) scale(1 1.015)" font-size="30.0" text-anchor="end">0.75</text>
<line x1="692.4" x2="699.7" y1="390.3" y2="390.3" stroke="#2b2b2b" stroke-width="2.3"/>
<text transform="translate(683.3 402.6) scale(1 1.015)" font-size="30.0" text-anchor="end">1.00</text>
<line x1="724.9" x2="724.9" y1="616.6" y2="623.8" stroke="#2b2b2b" stroke-width="2.3"/>
<text transform="translate(736.6 632.4) rotate(-90) scale(1 1.015)" font-size="30.0" text-anchor="end">0 - 0.005</text>
<line x1="767.9" x2="767.9" y1="616.6" y2="623.8" stroke="#2b2b2b" stroke-width="2.3"/>
<text transform="translate(779.5 632.4) rotate(-90) scale(1 1.015)" font-size="30.0" text-anchor="end">0.005 - 0.01</text>
<line x1="810.9" x2="810.9" y1="616.6" y2="623.8" stroke="#2b2b2b" stroke-width="2.3"/>
<text transform="translate(822.4 632.4) rotate(-90) scale(1 1.015)" font-size="30.0" text-anchor="end">0.01 - 0.05</text>
<line x1="853.9" x2="853.9" y1="616.6" y2="623.8" stroke="#2b2b2b" stroke-width="2.3"/>
<text transform="translate(865.3 632.4) rotate(-90) scale(1 1.015)" font-size="30.0" text-anchor="end">0.05 - 0.1</text>
<line x1="896.9" x2="896.9" y1="616.6" y2="623.8" stroke="#2b2b2b" stroke-width="2.3"/>
<text transform="translate(908.2 632.4) rotate(-90) scale(1 1.015)" font-size="30.0" text-anchor="end">0.1 - 0.2</text>
<line x1="939.9" x2="939.9" y1="616.6" y2="623.8" stroke="#2b2b2b" stroke-width="2.3"/>
<text transform="translate(951.1 632.4) rotate(-90) scale(1 1.015)" font-size="30.0" text-anchor="end">0.2 - 0.3</text>
<line x1="982.9" x2="982.9" y1="616.6" y2="623.8" stroke="#2b2b2b" stroke-width="2.3"/>
<text transform="translate(994.0 632.4) rotate(-90) scale(1 1.015)" font-size="30.0" text-anchor="end">0.3 - 0.4</text>
<line x1="1025.9" x2="1025.9" y1="616.6" y2="623.8" stroke="#2b2b2b" stroke-width="2.3"/>
<text transform="translate(1036.9 632.4) rotate(-90) scale(1 1.015)" font-size="30.0" text-anchor="end">0.4 - 0.5</text>
<text x="874.9" y="837.6" font-size="30.0" text-anchor="middle">Allele frequency</text>
<text x="1387.8" y="32.0" font-size="37.75" text-anchor="middle" class="t">Metagenome Call = Ref / Alt</text>
<text x="1387.8" y="70" font-size="37.75" text-anchor="middle" class="t">Major allele = Alt</text>
<path d="M1261.7 337.4L1267.5 343.5L1261.7 349.6L1255.9 343.5Z" fill="#4a4482" stroke="#161616" stroke-width="1.35"/>
<path d="M1304.7 337.4L1310.5 343.5L1304.7 349.6L1298.9 343.5Z" fill="#4a4482" stroke="#161616" stroke-width="1.35"/>
<path d="M1347.7 330.0L1353.5 336.1L1347.7 342.2L1341.9 336.1Z" fill="#4a4482" stroke="#161616" stroke-width="1.35"/>
<path d="M1390.7 318.2L1396.5 324.3L1390.7 330.4L1384.9 324.3Z" fill="#4a4482" stroke="#161616" stroke-width="1.35"/>
<path d="M1433.7 263.7L1439.5 269.8L1433.7 275.9L1427.9 269.8Z" fill="#4a4482" stroke="#161616" stroke-width="1.35"/>
<path d="M1476.7 211.4L1482.5 217.5L1476.7 223.6L1470.9 217.5Z" fill="#4a4482" stroke="#161616" stroke-width="1.35"/>
<path d="M1519.7 166.5L1525.5 172.6L1519.7 178.7L1513.9 172.6Z" fill="#4a4482" stroke="#161616" stroke-width="1.35"/>
<path d="M1562.7 124.2L1568.5 130.3L1562.7 136.4L1556.9 130.3Z" fill="#4a4482" stroke="#161616" stroke-width="1.35"/>
<path d="M1261.7 337.4L1267.5 343.5L1261.7 349.6L1255.9 343.5Z" fill="#8a4caa" stroke="#161616" stroke-width="1.35"/>
<path d="M1304.7 337.4L1310.5 343.5L1304.7 349.6L1298.9 343.5Z" fill="#8a4caa" stroke="#161616" stroke-width="1.35"/>
<path d="M1347.7 331.9L1353.5 338.0L1347.7 344.1L1341.9 338.0Z" fill="#8a4caa" stroke="#161616" stroke-width="1.35"/>
<path d="M1390.7 322.3L1396.5 328.4L1390.7 334.5L1384.9 328.4Z" fill="#8a4caa" stroke="#161616" stroke-width="1.35"/>
<path d="M1433.7 281.0L1439.5 287.1L1433.7 293.2L1427.9 287.1Z" fill="#8a4caa" stroke="#161616" stroke-width="1.35"/>
<path d="M1476.7 239.7L1482.5 245.8L1476.7 251.9L1470.9 245.8Z" fill="#8a4caa" stroke="#161616" stroke-width="1.35"/>
<path d="M1519.7 201.8L1525.5 207.9L1519.7 214.0L1513.9 207.9Z" fill="#8a4caa" stroke="#161616" stroke-width="1.35"/>
<path d="M1562.7 167.6L1568.5 173.7L1562.7 179.8L1556.9 173.7Z" fill="#8a4caa" stroke="#161616" stroke-width="1.35"/>
<path d="M1261.7 337.4L1267.5 343.5L1261.7 349.6L1255.9 343.5Z" fill="#d5648a" stroke="#161616" stroke-width="1.35"/>
<path d="M1304.7 337.4L1310.5 343.5L1304.7 349.6L1298.9 343.5Z" fill="#d5648a" stroke="#161616" stroke-width="1.35"/>
<path d="M1347.7 336.1L1353.5 342.2L1347.7 348.3L1341.9 342.2Z" fill="#d5648a" stroke="#161616" stroke-width="1.35"/>
<path d="M1390.7 331.1L1396.5 337.2L1390.7 343.3L1384.9 337.2Z" fill="#d5648a" stroke="#161616" stroke-width="1.35"/>
<path d="M1433.7 314.6L1439.5 320.7L1433.7 326.8L1427.9 320.7Z" fill="#d5648a" stroke="#161616" stroke-width="1.35"/>
<path d="M1476.7 298.9L1482.5 305.0L1476.7 311.1L1470.9 305.0Z" fill="#d5648a" stroke="#161616" stroke-width="1.35"/>
<path d="M1519.7 284.3L1525.5 290.4L1519.7 296.5L1513.9 290.4Z" fill="#d5648a" stroke="#161616" stroke-width="1.35"/>
<path d="M1562.7 270.6L1568.5 276.7L1562.7 282.8L1556.9 276.7Z" fill="#d5648a" stroke="#161616" stroke-width="1.35"/>
<path d="M1261.7 337.4L1267.5 343.5L1261.7 349.6L1255.9 343.5Z" fill="#f4a664" stroke="#161616" stroke-width="1.35"/>
<path d="M1304.7 337.4L1310.5 343.5L1304.7 349.6L1298.9 343.5Z" fill="#f4a664" stroke="#161616" stroke-width="1.35"/>
<path d="M1347.7 337.1L1353.5 343.2L1347.7 349.3L1341.9 343.2Z" fill="#f4a664" stroke="#161616" stroke-width="1.35"/>
<path d="M1390.7 336.5L1396.5 342.6L1390.7 348.7L1384.9 342.6Z" fill="#f4a664" stroke="#161616" stroke-width="1.35"/>
<path d="M1433.7 334.7L1439.5 340.8L1433.7 346.9L1427.9 340.8Z" fill="#f4a664" stroke="#161616" stroke-width="1.35"/>
<path d="M1476.7 332.8L1482.5 338.9L1476.7 345.0L1470.9 338.9Z" fill="#f4a664" stroke="#161616" stroke-width="1.35"/>
<path d="M1519.7 331.1L1525.5 337.2L1519.7 343.3L1513.9 337.2Z" fill="#f4a664" stroke="#161616" stroke-width="1.35"/>
<path d="M1562.7 329.2L1568.5 335.3L1562.7 341.4L1556.9 335.3Z" fill="#f4a664" stroke="#161616" stroke-width="1.35"/>
<path d="M1261.7 337.4L1267.5 343.5L1261.7 349.6L1255.9 343.5Z" fill="#eae76f" stroke="#161616" stroke-width="1.35"/>
<path d="M1304.7 337.4L1310.5 343.5L1304.7 349.6L1298.9 343.5Z" fill="#eae76f" stroke="#161616" stroke-width="1.35"/>
<path d="M1347.7 337.4L1353.5 343.5L1347.7 349.6L1341.9 343.5Z" fill="#eae76f" stroke="#161616" stroke-width="1.35"/>
<path d="M1390.7 337.3L1396.5 343.4L1390.7 349.5L1384.9 343.4Z" fill="#eae76f" stroke="#161616" stroke-width="1.35"/>
<path d="M1433.7 336.9L1439.5 343.0L1433.7 349.1L1427.9 343.0Z" fill="#eae76f" stroke="#161616" stroke-width="1.35"/>
<path d="M1476.7 336.6L1482.5 342.7L1476.7 348.8L1470.9 342.7Z" fill="#eae76f" stroke="#161616" stroke-width="1.35"/>
<path d="M1519.7 336.1L1525.5 342.2L1519.7 348.3L1513.9 342.2Z" fill="#eae76f" stroke="#161616" stroke-width="1.35"/>
<path d="M1562.7 335.8L1568.5 341.9L1562.7 348.0L1556.9 341.9Z" fill="#eae76f" stroke="#161616" stroke-width="1.35"/>
<polyline points="1261.7,343.5 1304.7,343.5 1347.7,336.1 1390.7,324.3 1433.7,269.8 1476.7,217.5 1519.7,172.6 1562.7,130.3" fill="none" stroke="#1b1850" stroke-width="2.4" stroke-linejoin="round" stroke-linecap="butt"/>
<polyline points="1261.7,343.5 1304.7,343.5 1347.7,338.0 1390.7,328.4 1433.7,287.1 1476.7,245.8 1519.7,207.9 1562.7,173.7" fill="none" stroke="#5a1f80" stroke-width="2.4" stroke-linejoin="round" stroke-linecap="butt"/>
<polyline points="1261.7,343.5 1304.7,343.5 1347.7,342.2 1390.7,337.2 1433.7,320.7 1476.7,305.0 1519.7,290.4 1562.7,276.7" fill="none" stroke="#c4466f" stroke-width="2.4" stroke-linejoin="round" stroke-linecap="butt"/>
<polyline points="1261.7,343.5 1304.7,343.5 1347.7,343.2 1390.7,342.6 1433.7,340.8 1476.7,338.9 1519.7,337.2 1562.7,335.3" fill="none" stroke="#ef944e" stroke-width="2.4" stroke-linejoin="round" stroke-linecap="butt"/>
<polyline points="1261.7,343.5 1304.7,343.5 1347.7,343.5 1390.7,343.4 1433.7,343.0 1476.7,342.7 1519.7,342.2 1562.7,341.9" fill="none" stroke="#e0dc4e" stroke-width="2.4" stroke-linejoin="round" stroke-linecap="butt"/>
<rect x="1236.6" y="120.1" width="351.6" height="233.9" fill="none" stroke="#3a3a3a" stroke-width="1.9"/>
<line x1="1229.3" x2="1236.6" y1="343.6" y2="343.6" stroke="#2b2b2b" stroke-width="2.3"/>
<text transform="translate(1220.5 356.3) scale(1 1.015)" font-size="30.0" text-anchor="end">0</text>
<line x1="1229.3" x2="1236.6" y1="266.15" y2="266.15" stroke="#2b2b2b" stroke-width="2.3"/>
<text transform="translate(1220.5 278.8) scale(1 1.015)" font-size="30.0" text-anchor="end">50,000</text>
<line x1="1229.3" x2="1236.6" y1="188.7" y2="188.7" stroke="#2b2b2b" stroke-width="2.3"/>
<text transform="translate(1220.5 201.4) scale(1 1.015)" font-size="30.0" text-anchor="end">100,000</text>
<line x1="1261.7" x2="1261.7" y1="354.0" y2="361.2" stroke="#2b2b2b" stroke-width="2.3"/>
<line x1="1304.7" x2="1304.7" y1="354.0" y2="361.2" stroke="#2b2b2b" stroke-width="2.3"/>
<line x1="1347.7" x2="1347.7" y1="354.0" y2="361.2" stroke="#2b2b2b" stroke-width="2.3"/>
<line x1="1390.7" x2="1390.7" y1="354.0" y2="361.2" stroke="#2b2b2b" stroke-width="2.3"/>
<line x1="1433.7" x2="1433.7" y1="354.0" y2="361.2" stroke="#2b2b2b" stroke-width="2.3"/>
<line x1="1476.7" x2="1476.7" y1="354.0" y2="361.2" stroke="#2b2b2b" stroke-width="2.3"/>
<line x1="1519.7" x2="1519.7" y1="354.0" y2="361.2" stroke="#2b2b2b" stroke-width="2.3"/>
<line x1="1562.7" x2="1562.7" y1="354.0" y2="361.2" stroke="#2b2b2b" stroke-width="2.3"/>
<path d="M1261.7 396.2L1267.5 402.3L1261.7 408.4L1255.9 402.3Z" fill="#4a4482" stroke="#161616" stroke-width="1.35"/>
<path d="M1304.7 390.0L1310.5 396.1L1304.7 402.2L1298.9 396.1Z" fill="#4a4482" stroke="#161616" stroke-width="1.35"/>
<path d="M1347.7 388.9L1353.5 395.0L1347.7 401.1L1341.9 395.0Z" fill="#4a4482" stroke="#161616" stroke-width="1.35"/>
<path d="M1390.7 386.8L1396.5 392.9L1390.7 399.0L1384.9 392.9Z" fill="#4a4482" stroke="#161616" stroke-width="1.35"/>
<path d="M1433.7 386.8L1439.5 392.9L1433.7 399.0L1427.9 392.9Z" fill="#4a4482" stroke="#161616" stroke-width="1.35"/>
<path d="M1476.7 386.8L1482.5 392.9L1476.7 399.0L1470.9 392.9Z" fill="#4a4482" stroke="#161616" stroke-width="1.35"/>
<path d="M1519.7 386.8L1525.5 392.9L1519.7 399.0L1513.9 392.9Z" fill="#4a4482" stroke="#161616" stroke-width="1.35"/>
<path d="M1562.7 386.8L1568.5 392.9L1562.7 399.0L1556.9 392.9Z" fill="#4a4482" stroke="#161616" stroke-width="1.35"/>
<path d="M1261.7 423.5L1267.5 429.6L1261.7 435.7L1255.9 429.6Z" fill="#8a4caa" stroke="#161616" stroke-width="1.35"/>
<path d="M1304.7 390.0L1310.5 396.1L1304.7 402.2L1298.9 396.1Z" fill="#8a4caa" stroke="#161616" stroke-width="1.35"/>
<path d="M1347.7 388.9L1353.5 395.0L1347.7 401.1L1341.9 395.0Z" fill="#8a4caa" stroke="#161616" stroke-width="1.35"/>
<path d="M1390.7 386.8L1396.5 392.9L1390.7 399.0L1384.9 392.9Z" fill="#8a4caa" stroke="#161616" stroke-width="1.35"/>
<path d="M1433.7 386.8L1439.5 392.9L1433.7 399.0L1427.9 392.9Z" fill="#8a4caa" stroke="#161616" stroke-width="1.35"/>
<path d="M1476.7 386.8L1482.5 392.9L1476.7 399.0L1470.9 392.9Z" fill="#8a4caa" stroke="#161616" stroke-width="1.35"/>
<path d="M1519.7 386.8L1525.5 392.9L1519.7 399.0L1513.9 392.9Z" fill="#8a4caa" stroke="#161616" stroke-width="1.35"/>
<path d="M1562.7 386.8L1568.5 392.9L1562.7 399.0L1556.9 392.9Z" fill="#8a4caa" stroke="#161616" stroke-width="1.35"/>
<path d="M1261.7 391.5L1267.5 397.6L1261.7 403.7L1255.9 397.6Z" fill="#d5648a" stroke="#161616" stroke-width="1.35"/>
<path d="M1304.7 388.5L1310.5 394.6L1304.7 400.7L1298.9 394.6Z" fill="#d5648a" stroke="#161616" stroke-width="1.35"/>
<path d="M1347.7 389.3L1353.5 395.4L1347.7 401.5L1341.9 395.4Z" fill="#d5648a" stroke="#161616" stroke-width="1.35"/>
<path d="M1390.7 386.8L1396.5 392.9L1390.7 399.0L1384.9 392.9Z" fill="#d5648a" stroke="#161616" stroke-width="1.35"/>
<path d="M1433.7 386.8L1439.5 392.9L1433.7 399.0L1427.9 392.9Z" fill="#d5648a" stroke="#161616" stroke-width="1.35"/>
<path d="M1476.7 386.8L1482.5 392.9L1476.7 399.0L1470.9 392.9Z" fill="#d5648a" stroke="#161616" stroke-width="1.35"/>
<path d="M1519.7 386.8L1525.5 392.9L1519.7 399.0L1513.9 392.9Z" fill="#d5648a" stroke="#161616" stroke-width="1.35"/>
<path d="M1562.7 386.8L1568.5 392.9L1562.7 399.0L1556.9 392.9Z" fill="#d5648a" stroke="#161616" stroke-width="1.35"/>
<path d="M1261.7 440.7L1267.5 446.8L1261.7 452.9L1255.9 446.8Z" fill="#f4a664" stroke="#161616" stroke-width="1.35"/>
<path d="M1304.7 388.2L1310.5 394.3L1304.7 400.4L1298.9 394.3Z" fill="#f4a664" stroke="#161616" stroke-width="1.35"/>
<path d="M1347.7 390.6L1353.5 396.7L1347.7 402.8L1341.9 396.7Z" fill="#f4a664" stroke="#161616" stroke-width="1.35"/>
<path d="M1390.7 387.2L1396.5 393.3L1390.7 399.4L1384.9 393.3Z" fill="#f4a664" stroke="#161616" stroke-width="1.35"/>
<path d="M1433.7 387.0L1439.5 393.1L1433.7 399.2L1427.9 393.1Z" fill="#f4a664" stroke="#161616" stroke-width="1.35"/>
<path d="M1476.7 386.8L1482.5 392.9L1476.7 399.0L1470.9 392.9Z" fill="#f4a664" stroke="#161616" stroke-width="1.35"/>
<path d="M1519.7 386.8L1525.5 392.9L1519.7 399.0L1513.9 392.9Z" fill="#f4a664" stroke="#161616" stroke-width="1.35"/>
<path d="M1562.7 386.8L1568.5 392.9L1562.7 399.0L1556.9 392.9Z" fill="#f4a664" stroke="#161616" stroke-width="1.35"/>
<path d="M1261.7 386.8L1267.5 392.9L1261.7 399.0L1255.9 392.9Z" fill="#eae76f" stroke="#161616" stroke-width="1.35"/>
<path d="M1304.7 386.8L1310.5 392.9L1304.7 399.0L1298.9 392.9Z" fill="#eae76f" stroke="#161616" stroke-width="1.35"/>
<path d="M1347.7 387.2L1353.5 393.3L1347.7 399.4L1341.9 393.3Z" fill="#eae76f" stroke="#161616" stroke-width="1.35"/>
<path d="M1390.7 389.7L1396.5 395.8L1390.7 401.9L1384.9 395.8Z" fill="#eae76f" stroke="#161616" stroke-width="1.35"/>
<path d="M1433.7 387.2L1439.5 393.3L1433.7 399.4L1427.9 393.3Z" fill="#eae76f" stroke="#161616" stroke-width="1.35"/>
<path d="M1476.7 386.8L1482.5 392.9L1476.7 399.0L1470.9 392.9Z" fill="#eae76f" stroke="#161616" stroke-width="1.35"/>
<path d="M1519.7 386.8L1525.5 392.9L1519.7 399.0L1513.9 392.9Z" fill="#eae76f" stroke="#161616" stroke-width="1.35"/>
<path d="M1562.7 386.8L1568.5 392.9L1562.7 399.0L1556.9 392.9Z" fill="#eae76f" stroke="#161616" stroke-width="1.35"/>
<polyline points="1261.7,402.3 1304.7,396.1 1347.7,395.0 1390.7,392.9 1433.7,392.9 1476.7,392.9 1519.7,392.9 1562.7,392.9" fill="none" stroke="#1b1850" stroke-width="2.4" stroke-linejoin="round" stroke-linecap="butt"/>
<polyline points="1261.7,429.6 1304.7,396.1 1347.7,395.0 1390.7,392.9 1433.7,392.9 1476.7,392.9 1519.7,392.9 1562.7,392.9" fill="none" stroke="#5a1f80" stroke-width="2.4" stroke-linejoin="round" stroke-linecap="butt"/>
<polyline points="1261.7,397.6 1304.7,394.6 1347.7,395.4 1390.7,392.9 1433.7,392.9 1476.7,392.9 1519.7,392.9 1562.7,392.9" fill="none" stroke="#c4466f" stroke-width="2.4" stroke-linejoin="round" stroke-linecap="butt"/>
<polyline points="1261.7,446.8 1304.7,394.3 1347.7,396.7 1390.7,393.3 1433.7,393.1 1476.7,392.9 1519.7,392.9 1562.7,392.9" fill="none" stroke="#ef944e" stroke-width="2.4" stroke-linejoin="round" stroke-linecap="butt"/>
<polyline points="1261.7,392.9 1304.7,392.9 1347.7,393.3 1390.7,395.8 1433.7,393.3 1476.7,392.9 1519.7,392.9 1562.7,392.9" fill="none" stroke="#e0dc4e" stroke-width="2.4" stroke-linejoin="round" stroke-linecap="butt"/>
<rect x="1236.6" y="383.0" width="351.6" height="233.6" fill="none" stroke="#3a3a3a" stroke-width="1.9"/>
<line x1="1229.3" x2="1236.6" y1="606.8" y2="606.8" stroke="#2b2b2b" stroke-width="2.3"/>
<text transform="translate(1222.2 616.5) scale(1 1.015)" font-size="30.0" text-anchor="end">0.00</text>
<line x1="1229.3" x2="1236.6" y1="553.3" y2="553.3" stroke="#2b2b2b" stroke-width="2.3"/>
<text transform="translate(1222.2 563.0) scale(1 1.015)" font-size="30.0" text-anchor="end">0.25</text>
<line x1="1229.3" x2="1236.6" y1="499.8" y2="499.8" stroke="#2b2b2b" stroke-width="2.3"/>
<text transform="translate(1222.2 509.5) scale(1 1.015)" font-size="30.0" text-anchor="end">0.50</text>
<line x1="1229.3" x2="1236.6" y1="446.3" y2="446.3" stroke="#2b2b2b" stroke-width="2.3"/>
<text transform="translate(1222.2 456.0) scale(1 1.015)" font-size="30.0" text-anchor="end">0.75</text>
<line x1="1229.3" x2="1236.6" y1="392.9" y2="392.9" stroke="#2b2b2b" stroke-width="2.3"/>
<text transform="translate(1222.2 402.6) scale(1 1.015)" font-size="30.0" text-anchor="end">1.00</text>
<line x1="1261.7" x2="1261.7" y1="616.6" y2="623.8" stroke="#2b2b2b" stroke-width="2.3"/>
<text transform="translate(1272.7 632.4) rotate(-90) scale(1 1.015)" font-size="30.0" text-anchor="end">0 - 0.005</text>
<line x1="1304.7" x2="1304.7" y1="616.6" y2="623.8" stroke="#2b2b2b" stroke-width="2.3"/>
<text transform="translate(1315.6 632.4) rotate(-90) scale(1 1.015)" font-size="30.0" text-anchor="end">0.005 - 0.01</text>
<line x1="1347.7" x2="1347.7" y1="616.6" y2="623.8" stroke="#2b2b2b" stroke-width="2.3"/>
<text transform="translate(1358.5 632.4) rotate(-90) scale(1 1.015)" font-size="30.0" text-anchor="end">0.01 - 0.05</text>
<line x1="1390.7" x2="1390.7" y1="616.6" y2="623.8" stroke="#2b2b2b" stroke-width="2.3"/>
<text transform="translate(1401.4 632.4) rotate(-90) scale(1 1.015)" font-size="30.0" text-anchor="end">0.05 - 0.1</text>
<line x1="1433.7" x2="1433.7" y1="616.6" y2="623.8" stroke="#2b2b2b" stroke-width="2.3"/>
<text transform="translate(1444.3 632.4) rotate(-90) scale(1 1.015)" font-size="30.0" text-anchor="end">0.1 - 0.2</text>
<line x1="1476.7" x2="1476.7" y1="616.6" y2="623.8" stroke="#2b2b2b" stroke-width="2.3"/>
<text transform="translate(1487.2 632.4) rotate(-90) scale(1 1.015)" font-size="30.0" text-anchor="end">0.2 - 0.3</text>
<line x1="1519.7" x2="1519.7" y1="616.6" y2="623.8" stroke="#2b2b2b" stroke-width="2.3"/>
<text transform="translate(1530.1 632.4) rotate(-90) scale(1 1.015)" font-size="30.0" text-anchor="end">0.3 - 0.4</text>
<line x1="1562.7" x2="1562.7" y1="616.6" y2="623.8" stroke="#2b2b2b" stroke-width="2.3"/>
<text transform="translate(1573.0 632.4) rotate(-90) scale(1 1.015)" font-size="30.0" text-anchor="end">0.4 - 0.5</text>
<text x="1412.1" y="837.6" font-size="30.0" text-anchor="middle">Allele frequency</text>
<text x="1933.3" y="32.0" font-size="37.75" text-anchor="middle" class="t">Metagenome Call = Alt / Alt</text>
<text x="1933.3" y="70" font-size="37.75" text-anchor="middle" class="t">Major allele = Alt</text>
<path d="M1798.8 247.5L1804.6 253.6L1798.8 259.7L1793.0 253.6Z" fill="#4a4482" stroke="#161616" stroke-width="1.35"/>
<path d="M1841.8 318.2L1847.6 324.3L1841.8 330.4L1836.0 324.3Z" fill="#4a4482" stroke="#161616" stroke-width="1.35"/>
<path d="M1884.8 222.7L1890.6 228.8L1884.8 234.9L1879.0 228.8Z" fill="#4a4482" stroke="#161616" stroke-width="1.35"/>
<path d="M1927.8 214.4L1933.6 220.5L1927.8 226.6L1922.0 220.5Z" fill="#4a4482" stroke="#161616" stroke-width="1.35"/>
<path d="M1970.8 124.2L1976.6 130.3L1970.8 136.4L1965.0 130.3Z" fill="#4a4482" stroke="#161616" stroke-width="1.35"/>
<path d="M2013.8 146.2L2019.6 152.3L2013.8 158.4L2008.0 152.3Z" fill="#4a4482" stroke="#161616" stroke-width="1.35"/>
<path d="M2056.8 174.0L2062.6 180.1L2056.8 186.2L2051.0 180.1Z" fill="#4a4482" stroke="#161616" stroke-width="1.35"/>
<path d="M2099.8 203.4L2105.6 209.5L2099.8 215.6L2094.0 209.5Z" fill="#4a4482" stroke="#161616" stroke-width="1.35"/>
<path d="M1798.8 291.5L1804.6 297.6L1798.8 303.7L1793.0 297.6Z" fill="#8a4caa" stroke="#161616" stroke-width="1.35"/>
<path d="M1841.8 321.7L1847.6 327.8L1841.8 333.9L1836.0 327.8Z" fill="#8a4caa" stroke="#161616" stroke-width="1.35"/>
<path d="M1884.8 250.8L1890.6 256.9L1884.8 263.0L1879.0 256.9Z" fill="#8a4caa" stroke="#161616" stroke-width="1.35"/>
<path d="M1927.8 243.9L1933.6 250.0L1927.8 256.1L1922.0 250.0Z" fill="#8a4caa" stroke="#161616" stroke-width="1.35"/>
<path d="M1970.8 175.1L1976.6 181.2L1970.8 187.3L1965.0 181.2Z" fill="#8a4caa" stroke="#161616" stroke-width="1.35"/>
<path d="M2013.8 189.4L2019.6 195.5L2013.8 201.6L2008.0 195.5Z" fill="#8a4caa" stroke="#161616" stroke-width="1.35"/>
<path d="M2056.8 212.8L2062.6 218.9L2056.8 225.0L2051.0 218.9Z" fill="#8a4caa" stroke="#161616" stroke-width="1.35"/>
<path d="M2099.8 235.9L2105.6 242.0L2099.8 248.1L2094.0 242.0Z" fill="#8a4caa" stroke="#161616" stroke-width="1.35"/>
<path d="M1798.8 324.5L1804.6 330.6L1798.8 336.7L1793.0 330.6Z" fill="#d5648a" stroke="#161616" stroke-width="1.35"/>
<path d="M1841.8 333.9L1847.6 340.0L1841.8 346.1L1836.0 340.0Z" fill="#d5648a" stroke="#161616" stroke-width="1.35"/>
<path d="M1884.8 314.0L1890.6 320.1L1884.8 326.2L1879.0 320.1Z" fill="#d5648a" stroke="#161616" stroke-width="1.35"/>
<path d="M1927.8 312.7L1933.6 318.8L1927.8 324.9L1922.0 318.8Z" fill="#d5648a" stroke="#161616" stroke-width="1.35"/>
<path d="M1970.8 292.9L1976.6 299.0L1970.8 305.1L1965.0 299.0Z" fill="#d5648a" stroke="#161616" stroke-width="1.35"/>
<path d="M2013.8 298.6L2019.6 304.7L2013.8 310.8L2008.0 304.7Z" fill="#d5648a" stroke="#161616" stroke-width="1.35"/>
<path d="M2056.8 303.6L2062.6 309.7L2056.8 315.8L2051.0 309.7Z" fill="#d5648a" stroke="#161616" stroke-width="1.35"/>
<path d="M2099.8 309.1L2105.6 315.2L2099.8 321.3L2094.0 315.2Z" fill="#d5648a" stroke="#161616" stroke-width="1.35"/>
<path d="M1798.8 336.6L1804.6 342.7L1798.8 348.8L1793.0 342.7Z" fill="#f4a664" stroke="#161616" stroke-width="1.35"/>
<path d="M1841.8 337.4L1847.6 343.5L1841.8 349.6L1836.0 343.5Z" fill="#f4a664" stroke="#161616" stroke-width="1.35"/>
<path d="M1884.8 336.0L1890.6 342.1L1884.8 348.2L1879.0 342.1Z" fill="#f4a664" stroke="#161616" stroke-width="1.35"/>
<path d="M1927.8 336.0L1933.6 342.1L1927.8 348.2L1922.0 342.1Z" fill="#f4a664" stroke="#161616" stroke-width="1.35"/>
<path d="M1970.8 334.7L1976.6 340.8L1970.8 346.9L1965.0 340.8Z" fill="#f4a664" stroke="#161616" stroke-width="1.35"/>
<path d="M2013.8 335.2L2019.6 341.3L2013.8 347.4L2008.0 341.3Z" fill="#f4a664" stroke="#161616" stroke-width="1.35"/>
<path d="M2056.8 335.5L2062.6 341.6L2056.8 347.7L2051.0 341.6Z" fill="#f4a664" stroke="#161616" stroke-width="1.35"/>
<path d="M2099.8 336.0L2105.6 342.1L2099.8 348.2L2094.0 342.1Z" fill="#f4a664" stroke="#161616" stroke-width="1.35"/>
<path d="M1798.8 337.4L1804.6 343.5L1798.8 349.6L1793.0 343.5Z" fill="#eae76f" stroke="#161616" stroke-width="1.35"/>
<path d="M1841.8 337.4L1847.6 343.5L1841.8 349.6L1836.0 343.5Z" fill="#eae76f" stroke="#161616" stroke-width="1.35"/>
<path d="M1884.8 337.3L1890.6 343.4L1884.8 349.5L1879.0 343.4Z" fill="#eae76f" stroke="#161616" stroke-width="1.35"/>
<path d="M1927.8 337.3L1933.6 343.4L1927.8 349.5L1922.0 343.4Z" fill="#eae76f" stroke="#161616" stroke-width="1.35"/>
<path d="M1970.8 336.9L1976.6 343.0L1970.8 349.1L1965.0 343.0Z" fill="#eae76f" stroke="#161616" stroke-width="1.35"/>
<path d="M2013.8 337.1L2019.6 343.2L2013.8 349.3L2008.0 343.2Z" fill="#eae76f" stroke="#161616" stroke-width="1.35"/>
<path d="M2056.8 337.2L2062.6 343.3L2056.8 349.4L2051.0 343.3Z" fill="#eae76f" stroke="#161616" stroke-width="1.35"/>
<path d="M2099.8 337.3L2105.6 343.4L2099.8 349.5L2094.0 343.4Z" fill="#eae76f" stroke="#161616" stroke-width="1.35"/>
<polyline points="1798.8,253.6 1841.8,324.3 1884.8,228.8 1927.8,220.5 1970.8,130.3 2013.8,152.3 2056.8,180.1 2099.8,209.5" fill="none" stroke="#1b1850" stroke-width="2.4" stroke-linejoin="round" stroke-linecap="butt"/>
<polyline points="1798.8,297.6 1841.8,327.8 1884.8,256.9 1927.8,250.0 1970.8,181.2 2013.8,195.5 2056.8,218.9 2099.8,242.0" fill="none" stroke="#5a1f80" stroke-width="2.4" stroke-linejoin="round" stroke-linecap="butt"/>
<polyline points="1798.8,330.6 1841.8,340.0 1884.8,320.1 1927.8,318.8 1970.8,299.0 2013.8,304.7 2056.8,309.7 2099.8,315.2" fill="none" stroke="#c4466f" stroke-width="2.4" stroke-linejoin="round" stroke-linecap="butt"/>
<polyline points="1798.8,342.7 1841.8,343.5 1884.8,342.1 1927.8,342.1 1970.8,340.8 2013.8,341.3 2056.8,341.6 2099.8,342.1" fill="none" stroke="#ef944e" stroke-width="2.4" stroke-linejoin="round" stroke-linecap="butt"/>
<polyline points="1798.8,343.5 1841.8,343.5 1884.8,343.4 1927.8,343.4 1970.8,343.0 2013.8,343.2 2056.8,343.3 2099.8,343.4" fill="none" stroke="#e0dc4e" stroke-width="2.4" stroke-linejoin="round" stroke-linecap="butt"/>
<rect x="1773.6" y="120.1" width="351.4" height="233.9" fill="none" stroke="#3a3a3a" stroke-width="1.9"/>
<line x1="1766.3" x2="1773.6" y1="343.5" y2="343.5" stroke="#2b2b2b" stroke-width="2.3"/>
<text transform="translate(1760.5 353.4) scale(1 1.015)" font-size="30.0" text-anchor="end">0</text>
<line x1="1766.3" x2="1773.6" y1="265.6" y2="265.6" stroke="#2b2b2b" stroke-width="2.3"/>
<text transform="translate(1760.5 275.5) scale(1 1.015)" font-size="30.0" text-anchor="end">50,000</text>
<line x1="1766.3" x2="1773.6" y1="187.7" y2="187.7" stroke="#2b2b2b" stroke-width="2.3"/>
<text transform="translate(1760.5 197.6) scale(1 1.015)" font-size="30.0" text-anchor="end">100,000</text>
<line x1="1798.8" x2="1798.8" y1="354.0" y2="361.2" stroke="#2b2b2b" stroke-width="2.3"/>
<line x1="1841.8" x2="1841.8" y1="354.0" y2="361.2" stroke="#2b2b2b" stroke-width="2.3"/>
<line x1="1884.8" x2="1884.8" y1="354.0" y2="361.2" stroke="#2b2b2b" stroke-width="2.3"/>
<line x1="1927.8" x2="1927.8" y1="354.0" y2="361.2" stroke="#2b2b2b" stroke-width="2.3"/>
<line x1="1970.8" x2="1970.8" y1="354.0" y2="361.2" stroke="#2b2b2b" stroke-width="2.3"/>
<line x1="2013.8" x2="2013.8" y1="354.0" y2="361.2" stroke="#2b2b2b" stroke-width="2.3"/>
<line x1="2056.8" x2="2056.8" y1="354.0" y2="361.2" stroke="#2b2b2b" stroke-width="2.3"/>
<line x1="2099.8" x2="2099.8" y1="354.0" y2="361.2" stroke="#2b2b2b" stroke-width="2.3"/>
<path d="M1798.8 386.8L1804.6 392.9L1798.8 399.0L1793.0 392.9Z" fill="#4a4482" stroke="#161616" stroke-width="1.35"/>
<path d="M1841.8 386.8L1847.6 392.9L1841.8 399.0L1836.0 392.9Z" fill="#4a4482" stroke="#161616" stroke-width="1.35"/>
<path d="M1884.8 386.8L1890.6 392.9L1884.8 399.0L1879.0 392.9Z" fill="#4a4482" stroke="#161616" stroke-width="1.35"/>
<path d="M1927.8 386.8L1933.6 392.9L1927.8 399.0L1922.0 392.9Z" fill="#4a4482" stroke="#161616" stroke-width="1.35"/>
<path d="M1970.8 386.8L1976.6 392.9L1970.8 399.0L1965.0 392.9Z" fill="#4a4482" stroke="#161616" stroke-width="1.35"/>
<path d="M2013.8 386.8L2019.6 392.9L2013.8 399.0L2008.0 392.9Z" fill="#4a4482" stroke="#161616" stroke-width="1.35"/>
<path d="M2056.8 387.0L2062.6 393.1L2056.8 399.2L2051.0 393.1Z" fill="#4a4482" stroke="#161616" stroke-width="1.35"/>
<path d="M2099.8 388.5L2105.6 394.6L2099.8 400.7L2094.0 394.6Z" fill="#4a4482" stroke="#161616" stroke-width="1.35"/>
<path d="M1798.8 387.2L1804.6 393.3L1798.8 399.4L1793.0 393.3Z" fill="#8a4caa" stroke="#161616" stroke-width="1.35"/>
<path d="M1841.8 386.8L1847.6 392.9L1841.8 399.0L1836.0 392.9Z" fill="#8a4caa" stroke="#161616" stroke-width="1.35"/>
<path d="M1884.8 386.8L1890.6 392.9L1884.8 399.0L1879.0 392.9Z" fill="#8a4caa" stroke="#161616" stroke-width="1.35"/>
<path d="M1927.8 386.8L1933.6 392.9L1927.8 399.0L1922.0 392.9Z" fill="#8a4caa" stroke="#161616" stroke-width="1.35"/>
<path d="M1970.8 387.2L1976.6 393.3L1970.8 399.4L1965.0 393.3Z" fill="#8a4caa" stroke="#161616" stroke-width="1.35"/>
<path d="M2013.8 387.6L2019.6 393.7L2013.8 399.8L2008.0 393.7Z" fill="#8a4caa" stroke="#161616" stroke-width="1.35"/>
<path d="M2056.8 388.0L2062.6 394.1L2056.8 400.2L2051.0 394.1Z" fill="#8a4caa" stroke="#161616" stroke-width="1.35"/>
<path d="M2099.8 390.6L2105.6 396.7L2099.8 402.8L2094.0 396.7Z" fill="#8a4caa" stroke="#161616" stroke-width="1.35"/>
<path d="M1798.8 387.4L1804.6 393.5L1798.8 399.6L1793.0 393.5Z" fill="#d5648a" stroke="#161616" stroke-width="1.35"/>
<path d="M1841.8 386.8L1847.6 392.9L1841.8 399.0L1836.0 392.9Z" fill="#d5648a" stroke="#161616" stroke-width="1.35"/>
<path d="M1884.8 386.8L1890.6 392.9L1884.8 399.0L1879.0 392.9Z" fill="#d5648a" stroke="#161616" stroke-width="1.35"/>
<path d="M1927.8 386.8L1933.6 392.9L1927.8 399.0L1922.0 392.9Z" fill="#d5648a" stroke="#161616" stroke-width="1.35"/>
<path d="M1970.8 387.8L1976.6 393.9L1970.8 400.0L1965.0 393.9Z" fill="#d5648a" stroke="#161616" stroke-width="1.35"/>
<path d="M2013.8 389.3L2019.6 395.4L2013.8 401.5L2008.0 395.4Z" fill="#d5648a" stroke="#161616" stroke-width="1.35"/>
<path d="M2056.8 390.0L2062.6 396.1L2056.8 402.2L2051.0 396.1Z" fill="#d5648a" stroke="#161616" stroke-width="1.35"/>
<path d="M2099.8 392.5L2105.6 398.6L2099.8 404.7L2094.0 398.6Z" fill="#d5648a" stroke="#161616" stroke-width="1.35"/>
<path d="M1798.8 387.8L1804.6 393.9L1798.8 400.0L1793.0 393.9Z" fill="#f4a664" stroke="#161616" stroke-width="1.35"/>
<path d="M1841.8 386.8L1847.6 392.9L1841.8 399.0L1836.0 392.9Z" fill="#f4a664" stroke="#161616" stroke-width="1.35"/>
<path d="M1884.8 386.8L1890.6 392.9L1884.8 399.0L1879.0 392.9Z" fill="#f4a664" stroke="#161616" stroke-width="1.35"/>
<path d="M1927.8 386.8L1933.6 392.9L1927.8 399.0L1922.0 392.9Z" fill="#f4a664" stroke="#161616" stroke-width="1.35"/>
<path d="M1970.8 388.9L1976.6 395.0L1970.8 401.1L1965.0 395.0Z" fill="#f4a664" stroke="#161616" stroke-width="1.35"/>
<path d="M2013.8 392.6L2019.6 398.7L2013.8 404.8L2008.0 398.7Z" fill="#f4a664" stroke="#161616" stroke-width="1.35"/>
<path d="M2056.8 393.6L2062.6 399.7L2056.8 405.8L2051.0 399.7Z" fill="#f4a664" stroke="#161616" stroke-width="1.35"/>
<path d="M2099.8 392.7L2105.6 398.8L2099.8 404.9L2094.0 398.8Z" fill="#f4a664" stroke="#161616" stroke-width="1.35"/>
<path d="M1798.8 388.9L1804.6 395.0L1798.8 401.1L1793.0 395.0Z" fill="#eae76f" stroke="#161616" stroke-width="1.35"/>
<path d="M1841.8 387.2L1847.6 393.3L1841.8 399.4L1836.0 393.3Z" fill="#eae76f" stroke="#161616" stroke-width="1.35"/>
<path d="M1884.8 387.2L1890.6 393.3L1884.8 399.4L1879.0 393.3Z" fill="#eae76f" stroke="#161616" stroke-width="1.35"/>
<path d="M1927.8 387.2L1933.6 393.3L1927.8 399.4L1922.0 393.3Z" fill="#eae76f" stroke="#161616" stroke-width="1.35"/>
<path d="M1970.8 393.0L1976.6 399.1L1970.8 405.2L1965.0 399.1Z" fill="#eae76f" stroke="#161616" stroke-width="1.35"/>
<path d="M2013.8 399.4L2019.6 405.5L2013.8 411.6L2008.0 405.5Z" fill="#eae76f" stroke="#161616" stroke-width="1.35"/>
<path d="M2056.8 396.8L2062.6 402.9L2056.8 409.0L2051.0 402.9Z" fill="#eae76f" stroke="#161616" stroke-width="1.35"/>
<path d="M2099.8 401.9L2105.6 408.0L2099.8 414.1L2094.0 408.0Z" fill="#eae76f" stroke="#161616" stroke-width="1.35"/>
<polyline points="1798.8,392.9 1841.8,392.9 1884.8,392.9 1927.8,392.9 1970.8,392.9 2013.8,392.9 2056.8,393.1 2099.8,394.6" fill="none" stroke="#1b1850" stroke-width="2.4" stroke-linejoin="round" stroke-linecap="butt"/>
<polyline points="1798.8,393.3 1841.8,392.9 1884.8,392.9 1927.8,392.9 1970.8,393.3 2013.8,393.7 2056.8,394.1 2099.8,396.7" fill="none" stroke="#5a1f80" stroke-width="2.4" stroke-linejoin="round" stroke-linecap="butt"/>
<polyline points="1798.8,393.5 1841.8,392.9 1884.8,392.9 1927.8,392.9 1970.8,393.9 2013.8,395.4 2056.8,396.1 2099.8,398.6" fill="none" stroke="#c4466f" stroke-width="2.4" stroke-linejoin="round" stroke-linecap="butt"/>
<polyline points="1798.8,393.9 1841.8,392.9 1884.8,392.9 1927.8,392.9 1970.8,395.0 2013.8,398.7 2056.8,399.7 2099.8,398.8" fill="none" stroke="#ef944e" stroke-width="2.4" stroke-linejoin="round" stroke-linecap="butt"/>
<polyline points="1798.8,395.0 1841.8,393.3 1884.8,393.3 1927.8,393.3 1970.8,399.1 2013.8,405.5 2056.8,402.9 2099.8,408.0" fill="none" stroke="#e0dc4e" stroke-width="2.4" stroke-linejoin="round" stroke-linecap="butt"/>
<rect x="1773.6" y="383.0" width="351.4" height="233.6" fill="none" stroke="#3a3a3a" stroke-width="1.9"/>
<line x1="1766.3" x2="1773.6" y1="606.8" y2="606.8" stroke="#2b2b2b" stroke-width="2.3"/>
<text transform="translate(1757.8 616.5) scale(1 1.015)" font-size="30.0" text-anchor="end">0.00</text>
<line x1="1766.3" x2="1773.6" y1="553.3" y2="553.3" stroke="#2b2b2b" stroke-width="2.3"/>
<text transform="translate(1757.8 563.0) scale(1 1.015)" font-size="30.0" text-anchor="end">0.25</text>
<line x1="1766.3" x2="1773.6" y1="499.8" y2="499.8" stroke="#2b2b2b" stroke-width="2.3"/>
<text transform="translate(1757.8 509.5) scale(1 1.015)" font-size="30.0" text-anchor="end">0.50</text>
<line x1="1766.3" x2="1773.6" y1="446.3" y2="446.3" stroke="#2b2b2b" stroke-width="2.3"/>
<text transform="translate(1757.8 456.0) scale(1 1.015)" font-size="30.0" text-anchor="end">0.75</text>
<line x1="1766.3" x2="1773.6" y1="392.9" y2="392.9" stroke="#2b2b2b" stroke-width="2.3"/>
<text transform="translate(1757.8 402.6) scale(1 1.015)" font-size="30.0" text-anchor="end">1.00</text>
<line x1="1798.8" x2="1798.8" y1="616.6" y2="623.8" stroke="#2b2b2b" stroke-width="2.3"/>
<text transform="translate(1811.8 632.4) rotate(-90) scale(1 1.015)" font-size="30.0" text-anchor="end">0 - 0.005</text>
<line x1="1841.8" x2="1841.8" y1="616.6" y2="623.8" stroke="#2b2b2b" stroke-width="2.3"/>
<text transform="translate(1854.7 632.4) rotate(-90) scale(1 1.015)" font-size="30.0" text-anchor="end">0.005 - 0.01</text>
<line x1="1884.8" x2="1884.8" y1="616.6" y2="623.8" stroke="#2b2b2b" stroke-width="2.3"/>
<text transform="translate(1897.6 632.4) rotate(-90) scale(1 1.015)" font-size="30.0" text-anchor="end">0.01 - 0.05</text>
<line x1="1927.8" x2="1927.8" y1="616.6" y2="623.8" stroke="#2b2b2b" stroke-width="2.3"/>
<text transform="translate(1940.5 632.4) rotate(-90) scale(1 1.015)" font-size="30.0" text-anchor="end">0.05 - 0.1</text>
<line x1="1970.8" x2="1970.8" y1="616.6" y2="623.8" stroke="#2b2b2b" stroke-width="2.3"/>
<text transform="translate(1983.4 632.4) rotate(-90) scale(1 1.015)" font-size="30.0" text-anchor="end">0.1 - 0.2</text>
<line x1="2013.8" x2="2013.8" y1="616.6" y2="623.8" stroke="#2b2b2b" stroke-width="2.3"/>
<text transform="translate(2026.3 632.4) rotate(-90) scale(1 1.015)" font-size="30.0" text-anchor="end">0.2 - 0.3</text>
<line x1="2056.8" x2="2056.8" y1="616.6" y2="623.8" stroke="#2b2b2b" stroke-width="2.3"/>
<text transform="translate(2069.2 632.4) rotate(-90) scale(1 1.015)" font-size="30.0" text-anchor="end">0.3 - 0.4</text>
<line x1="2099.8" x2="2099.8" y1="616.6" y2="623.8" stroke="#2b2b2b" stroke-width="2.3"/>
<text transform="translate(2112.1 632.4) rotate(-90) scale(1 1.015)" font-size="30.0" text-anchor="end">0.4 - 0.5</text>
<text x="1949.3" y="837.6" font-size="30.0" text-anchor="middle">Allele frequency</text>
<text transform="translate(26.9 207) rotate(-90)" font-size="30.0" text-anchor="middle">Number of variants</text>
<text transform="translate(25.9 510) rotate(-90)" font-size="30.0" text-anchor="middle">Concordance ratio</text>
<path d="M694.6 898.0L711.6 915.0L694.6 932.0L677.6 915.0Z" fill="#5f5690" stroke="#6c6b70" stroke-width="1.9"/>
<text x="728.1" y="928.8" font-size="36.3" class="t">Sample D1</text>
<path d="M694.6 941.6L711.6 958.6L694.6 975.6L677.6 958.6Z" fill="#9a5fb6" stroke="#6c6b70" stroke-width="1.9"/>
<text x="728.1" y="972.4" font-size="36.3" class="t">Sample D2</text>
<path d="M987.8 898.0L1004.8 915.0L987.8 932.0L970.8 915.0Z" fill="#d67a9c" stroke="#6c6b70" stroke-width="1.9"/>
<text x="1021.8" y="928.8" font-size="36.3" class="t">Sample D3</text>
<path d="M987.8 941.6L1004.8 958.6L987.8 975.6L970.8 958.6Z" fill="#f5ae73" stroke="#6c6b70" stroke-width="1.9"/>
<text x="1021.8" y="972.4" font-size="36.3" class="t">Sample D4</text>
<path d="M1279.1 898.0L1296.1 915.0L1279.1 932.0L1262.1 915.0Z" fill="#ecec82" stroke="#6c6b70" stroke-width="1.9"/>
<text x="1312.3" y="928.8" font-size="36.3" class="t">Sample D5</text>
</svg>
</body>
</html>
